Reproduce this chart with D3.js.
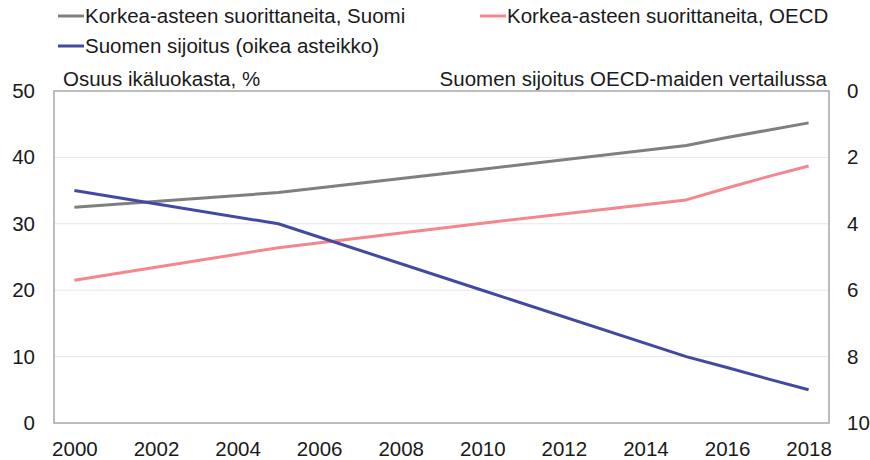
<!DOCTYPE html>
<html>
<head>
<meta charset="utf-8">
<script src="https://cdn.jsdelivr.net/npm/d3@7"></script>
<style>
  body { margin: 0; background: #fff; }
  svg text { font-family: "Liberation Sans", Arial, sans-serif; fill: #1a1a1a; }
</style>
</head>
<body>
<div class="chart"></div>
<script>
// data
const years = d3.range(2000, 2019);
const tickYears = [2000, 2002, 2004, 2006, 2008, 2010, 2012, 2014, 2016, 2018];
const finlandYears = [2000, 2005, 2010, 2015, 2016, 2017, 2018];
const finlandShare = [32.5, 34.7, 38.2, 41.8, 43.0, 44.1, 45.2];
const oecdYears = [2000, 2005, 2010, 2015, 2016, 2017, 2018];
const oecdShare = [21.5, 26.4, 30.1, 33.6, 35.4, 37.1, 38.7];
const rankYears = [2000, 2005, 2010, 2015, 2016, 2017, 2018];
const finlandRank = [3, 4, 6, 8, 8.33, 8.67, 9];
const leftTicks = [0, 10, 20, 30, 40, 50];
const rightTicks = [0, 2, 4, 6, 8, 10];

const width = 870, height = 460;
const margin = {top: 91, right: 41, bottom: 37, left: 54};
const w = width - margin.left - margin.right;
const h = height - margin.top - margin.bottom;
const fontSize = '20.5px';

const svg = d3.select('.chart').append('svg')
    .attr('width', width)
    .attr('height', height);

const g = svg.append('g')
    .attr('transform', 'translate(' + margin.left + ',' + margin.top + ')');

let x = d3.scalePoint().domain(years).range([0, w]).padding(0.5);
let yL = d3.scaleLinear().domain([0, 50]).range([h, 0]);
let yR = d3.scaleLinear().domain([0, 10]).range([0, h]);

// gridlines
g.append('g')
    .selectAll('line')
    .data(leftTicks.slice(1, -1))
    .enter().append('line')
    .attr('x1', 0).attr('x2', w)
    .attr('y1', d => yL(d)).attr('y2', d => yL(d))
    .attr('stroke', '#e6e6e6')
    .attr('stroke-width', 1);

// left axis
g.append('g')
    .call(d3.axisLeft(yL).tickValues(leftTicks).tickSize(0).tickPadding(19))
    .call(a => a.select('.domain').remove())
    .selectAll('text')
    .style('font-size', fontSize);

// right axis
g.append('g')
    .attr('transform', 'translate(' + w + ',0)')
    .call(d3.axisRight(yR).tickValues(rightTicks).tickSize(0).tickPadding(18))
    .call(a => a.select('.domain').remove())
    .selectAll('text')
    .style('font-size', fontSize);

// bottom axis
g.append('g')
    .attr('transform', 'translate(0,' + h + ')')
    .call(d3.axisBottom(x).tickValues(tickYears).tickSize(0).tickPadding(18))
    .call(a => a.select('.domain').remove())
    .selectAll('text')
    .style('font-size', fontSize);

// plot frame
g.append('rect')
    .attr('width', w).attr('height', h)
    .attr('fill', 'none')
    .attr('stroke', '#a6a6a6')
    .attr('stroke-width', 1.5);

const series = [
    {name: 'Korkea-asteen suorittaneita, Suomi', xs: finlandYears, ys: finlandShare, y: yL, color: '#7f7f7f'},
    {name: 'Korkea-asteen suorittaneita, OECD', xs: oecdYears, ys: oecdShare, y: yL, color: '#f4868e'},
    {name: 'Suomen sijoitus (oikea asteikko)', xs: rankYears, ys: finlandRank, y: yR, color: '#4349a3'}
];

series.forEach(function(s) {
    const line = d3.line()
        .x((d, i) => x(s.xs[i]))
        .y(d => s.y(d));
    g.append('path')
        .datum(s.ys)
        .attr('fill', 'none')
        .attr('stroke', s.color)
        .attr('stroke-width', 3)
        .attr('stroke-linejoin', 'round')
        .attr('d', line);
});

// axis titles
svg.append('text')
    .attr('x', 63).attr('y', 86)
    .style('font-size', fontSize)
    .text('Osuus ikäluokasta, %');
svg.append('text')
    .attr('x', 827).attr('y', 86)
    .attr('text-anchor', 'end')
    .style('font-size', fontSize)
    .text('Suomen sijoitus OECD-maiden vertailussa');

// legend
const legendPos = [[58, 16], [480, 16], [58, 46]];
series.forEach(function(s, i) {
    const lg = svg.append('g')
        .attr('transform', 'translate(' + legendPos[i][0] + ',' + legendPos[i][1] + ')');
    lg.append('line')
        .attr('x1', 0).attr('x2', 26)
        .attr('stroke', s.color)
        .attr('stroke-width', 3);
    lg.append('text')
        .attr('x', 27).attr('dy', '0.35em')
        .style('font-size', fontSize)
        .text(s.name);
});
</script>
</body>
</html>
